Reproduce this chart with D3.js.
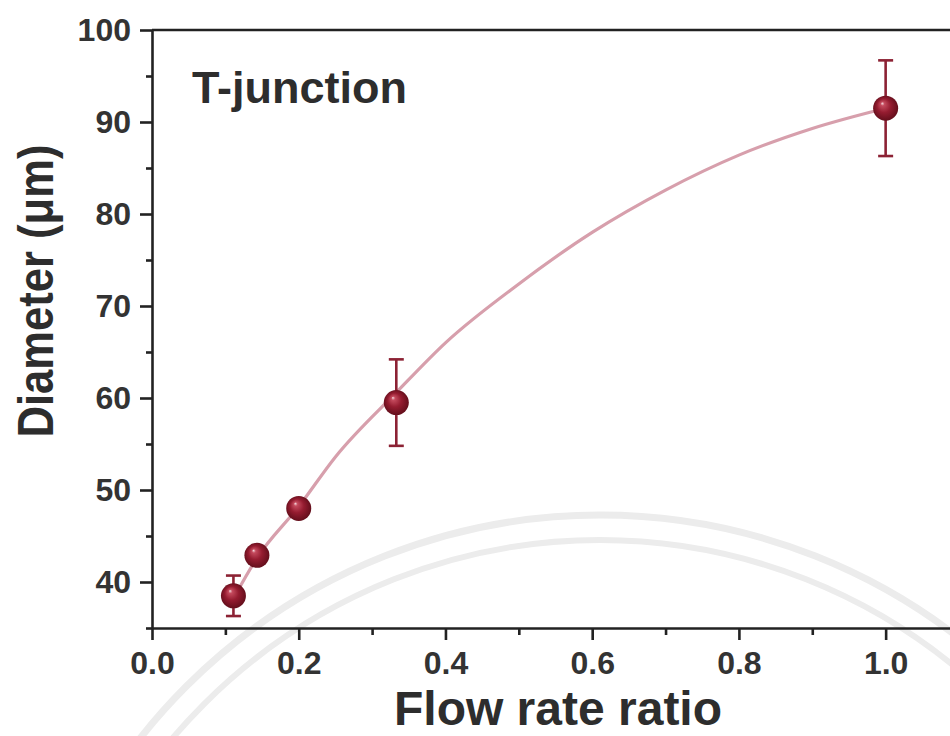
<!DOCTYPE html>
<html>
<head>
<meta charset="utf-8">
<script src="https://cdn.jsdelivr.net/npm/d3@7"></script>
<style>
    body { margin: 0; background: #fff; }
    svg { display: block; }
    .axis text { font-family: "Liberation Sans", Arial, sans-serif; font-weight: bold; fill: #333; }
</style>
</head>
<body>
<div id="chart"></div>
<script>
// measured points (T-junction)
var flowRatio = [0.111, 0.143, 0.2, 0.333, 1.0];
var diameter = [38.5, 42.9, 48.0, 59.5, 91.5];
var diameterErr = [2.2, 0.8, 0.7, 4.7, 5.2];

// fitted curve
var fitRatio = [0.111, 0.143, 0.2, 0.25, 0.333, 0.4, 0.5, 0.6, 0.7, 0.8, 0.9, 1.0];
var fitDiameter = [38.2, 42.6, 48.2, 53.6, 60.6, 66.0, 72.4, 78.0, 82.6, 86.4, 89.3, 91.5];

var xMajor = [0.0, 0.2, 0.4, 0.6, 0.8, 1.0];
var xMinor = [0.1, 0.3, 0.5, 0.7, 0.9];
var yMajor = [40, 50, 60, 70, 80, 90, 100];
var yMinor = [35, 45, 55, 65, 75, 85, 95];

var chartW = 950, chartH = 736;
var plotLeft = 152, plotRight = 959, plotTop = 30, plotBottom = 628;

var svg = d3.select('#chart').append('svg')
    .attr('width', chartW)
    .attr('height', chartH);

var x = d3.scaleLinear().domain([0, 1.1]).range([plotLeft, plotRight]);
var y = d3.scaleLinear().domain([35, 100]).range([plotBottom, plotTop]);

// sphere look for the markers
var grad = svg.append('defs').append('radialGradient')
    .attr('id', 'ball')
    .attr('cx', '50%').attr('cy', '50%').attr('r', '55%')
    .attr('fx', '36%').attr('fy', '30%');
grad.append('stop').attr('offset', '0%').attr('stop-color', '#f6dde1');
grad.append('stop').attr('offset', '14%').attr('stop-color', '#c44a5d');
grad.append('stop').attr('offset', '50%').attr('stop-color', '#951c30');
grad.append('stop').attr('offset', '100%').attr('stop-color', '#5c0c18');

// faint watermark arcs
var wm = svg.append('g').attr('fill', 'none').attr('stroke', '#ececec');
wm.append('circle').attr('cx', 600).attr('cy', 1100).attr('r', 585).attr('stroke-width', 7);
wm.append('circle').attr('cx', 600).attr('cy', 1100).attr('r', 560).attr('stroke-width', 6);

// frame top line
svg.append('line')
    .attr('x1', plotLeft).attr('x2', plotRight)
    .attr('y1', plotTop).attr('y2', plotTop)
    .attr('stroke', '#222').attr('stroke-width', 2.6);

// Y Axis
svg.append('g')
    .attr('class', 'axis')
    .attr('transform', `translate(${plotLeft},0)`)
    .call(d3.axisLeft(y).tickValues(yMajor).tickSize(12).tickPadding(9).tickSizeOuter(0)
        .tickFormat(d3.format('d')));
svg.append('g')
    .attr('class', 'axis')
    .attr('transform', `translate(${plotLeft},0)`)
    .call(d3.axisLeft(y).tickValues(yMinor).tickSize(6).tickFormat('').tickSizeOuter(0))
    .select('.domain').remove();

// X Axis
svg.append('g')
    .attr('class', 'axis')
    .attr('transform', `translate(0,${plotBottom})`)
    .call(d3.axisBottom(x).tickValues(xMajor).tickSize(12).tickPadding(11).tickSizeOuter(0)
        .tickFormat(d3.format('.1f')));
svg.append('g')
    .attr('class', 'axis')
    .attr('transform', `translate(0,${plotBottom})`)
    .call(d3.axisBottom(x).tickValues(xMinor).tickSize(7).tickFormat('').tickSizeOuter(0))
    .select('.domain').remove();

svg.selectAll('.axis path, .axis line')
    .attr('stroke', '#222')
    .attr('stroke-width', 2.6);
svg.selectAll('.axis text').style('font-size', '32px');

// fit curve
var pts = fitRatio.map((d, i) => [d, fitDiameter[i]]);
svg.append('path')
    .datum(pts)
    .attr('fill', 'none')
    .attr('stroke', '#d79fac')
    .attr('stroke-width', 3.2)
    .attr('d', d3.line().x(d => x(d[0])).y(d => y(d[1])).curve(d3.curveMonotoneX));

// error bars
var bars = svg.append('g').attr('stroke', '#8c2234').attr('stroke-width', 2.6);
flowRatio.forEach((r, i) => {
    var lo = diameter[i] - diameterErr[i], hi = diameter[i] + diameterErr[i];
    bars.append('line').attr('x1', x(r)).attr('x2', x(r)).attr('y1', y(lo)).attr('y2', y(hi));
    bars.append('line').attr('x1', x(r) - 7.5).attr('x2', x(r) + 7.5).attr('y1', y(lo)).attr('y2', y(lo));
    bars.append('line').attr('x1', x(r) - 7.5).attr('x2', x(r) + 7.5).attr('y1', y(hi)).attr('y2', y(hi));
});

// markers
svg.append('g')
    .selectAll('circle')
    .data(flowRatio)
    .join('circle')
    .attr('cx', d => x(d))
    .attr('cy', (d, i) => y(diameter[i]))
    .attr('r', 12.5)
    .attr('fill', 'url(#ball)');

// labels
svg.append('text')
    .attr('x', 192).attr('y', 103)
    .style('font-family', '"Liberation Sans", Arial, sans-serif')
    .style('font-weight', 'bold')
    .style('font-size', '45px')
    .attr('fill', '#2d2d2d')
    .text('T-junction');

svg.append('text')
    .attr('x', 558).attr('y', 725)
    .attr('text-anchor', 'middle')
    .style('font-family', '"Liberation Sans", Arial, sans-serif')
    .style('font-weight', 'bold')
    .style('font-size', '48px')
    .attr('fill', '#2d2d2d')
    .text('Flow rate ratio');

svg.append('text')
    .attr('transform', 'translate(53,291) rotate(-90)')
    .attr('text-anchor', 'middle')
    .attr('textLength', 293)
    .attr('lengthAdjust', 'spacingAndGlyphs')
    .style('font-family', '"Liberation Sans", Arial, sans-serif')
    .style('font-weight', 'bold')
    .style('font-size', '50px')
    .attr('fill', '#2d2d2d')
    .text('Diameter (μm)');
</script>
</body>
</html>
